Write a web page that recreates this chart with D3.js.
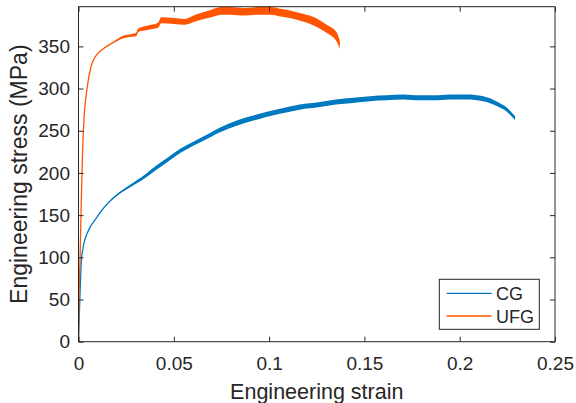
<!DOCTYPE html>
<html>
<head>
<meta charset="utf-8">
<script src="https://cdn.jsdelivr.net/npm/d3@7"></script>
<style>
  html, body { margin: 0; padding: 0; background: #fff; }
  svg { display: block; font-family: "Liberation Sans", Arial, Helvetica, sans-serif; }
</style>
</head>
<body>
<svg id="chart" width="576" height="403"></svg>
<script>
// ---- data ----
const seriesNames = ["CG", "UFG"];
const cgStrain = [0, 0.0004, 0.0010, 0.0015, 0.0022, 0.0035, 0.0057, 0.0092, 0.0127, 0.0162, 0.0214, 0.0267, 0.0337, 0.0407, 0.0476, 0.0512, 0.0564, 0.065, 0.0743, 0.083, 0.0917, 0.1057, 0.116, 0.1267, 0.135, 0.144, 0.153, 0.1617, 0.1704, 0.179, 0.186, 0.195, 0.2037, 0.2124, 0.2194, 0.2247, 0.229];
const cgStress = [0, 30, 70, 96, 109, 122, 134, 146, 157, 166, 176, 184, 194, 206, 217, 223, 230, 240, 251, 259, 265, 273, 278, 281, 284, 286, 288, 289, 290, 289, 289, 290, 290, 288, 282, 275, 265];
const cgNoise = [0, 0, 0, 0, 0, 0, 0, 0.3, 0.5, 0.8, 1, 1.5, 2, 2.5, 2.5, 2.5, 2.5, 2.5, 2.8, 3, 3, 3, 3, 3, 3, 3, 3, 3, 3, 3, 3, 3, 3, 3, 2.8, 2.5, 2.2];
const ufgStrain = [0, 0.0002, 0.0008, 0.0015, 0.0022, 0.003, 0.0046, 0.0067, 0.0092, 0.0129, 0.017, 0.0207, 0.0234, 0.028, 0.0303, 0.0312, 0.036, 0.0417, 0.0434, 0.05, 0.0557, 0.062, 0.0697, 0.075, 0.08, 0.087, 0.094, 0.1005, 0.106, 0.111, 0.116, 0.123, 0.13, 0.1355, 0.137];
const ufgStress = [0, 40, 97, 170, 230, 268, 302, 327, 339, 347, 353, 358, 361, 363, 364, 369, 372, 375, 381, 380, 379, 384, 389, 392, 392, 391, 392, 392, 390, 388, 385, 380, 371, 361, 352];
const ufgNoise = [0, 0, 0, 0, 0, 0, 0, 0, 0, 0, 0.5, 1, 1.5, 1.5, 2, 2, 2.5, 3, 3.5, 3.5, 3.5, 4, 4.5, 4.5, 4.5, 4.5, 4.5, 4.5, 4.5, 4.5, 4.5, 5, 5, 5.5, 5.5];
const xTicks = [0, 0.05, 0.1, 0.15, 0.2, 0.25];
const xTickLabels = ["0", "0.05", "0.1", "0.15", "0.2", "0.25"];
const yTicks = [0, 50, 100, 150, 200, 250, 300, 350];
const yTickLabels = ["0", "50", "100", "150", "200", "250", "300", "350"];
const xLabel = "Engineering strain";
const yLabel = "Engineering stress (MPa)";

// ---- layout ----
const colors = { CG: "#0079C1", UFG: "#FF5500" };
const pL = 78.5, pR = 555, pT = 6.7, pB = 341.7;
const svg = d3.select("#chart");
const x = d3.scaleLinear().domain([0, 0.25]).range([pL, pR]);
const y = d3.scaleLinear().domain([0, 397]).range([pB, pT]);
const axisColor = "#262626";

svg.append("defs").append("clipPath").attr("id", "plotclip")
  .append("rect").attr("x", pL).attr("y", pT).attr("width", pR - pL).attr("height", pB - pT);

const series = [
  { name: "CG", strain: cgStrain, stress: cgStress, noise: cgNoise },
  { name: "UFG", strain: ufgStrain, stress: ufgStress, noise: ufgNoise }
];

const plot = svg.append("g").attr("clip-path", "url(#plotclip)");
series.forEach(s => {
  const pts = s.strain.map((e, i) => ({ e, s: s.stress[i], n: s.noise[i] }));
  const area = d3.area().x(d => x(d.e)).y0(d => y(d.s - d.n)).y1(d => y(d.s + d.n)).curve(d3.curveMonotoneX);
  const line = d3.line().x(d => x(d.e)).y(d => y(d.s)).curve(d3.curveMonotoneX);
  plot.append("path").datum(pts).attr("d", area).attr("fill", colors[s.name]).attr("stroke", "none");
  plot.append("path").datum(pts).attr("d", line).attr("fill", "none")
    .attr("stroke", colors[s.name]).attr("stroke-width", 1.3);
});

const tickLen = 5;
const gx = svg.append("g").attr("transform", `translate(0,${pB})`)
  .call(d3.axisBottom(x).tickValues(xTicks).tickFormat((d, i) => xTickLabels[i]).tickSizeInner(-tickLen).tickSizeOuter(0));
const gxt = svg.append("g").attr("transform", `translate(0,${pT})`)
  .call(d3.axisTop(x).tickValues(xTicks).tickFormat("").tickSizeInner(-tickLen).tickSizeOuter(0));
const gy = svg.append("g").attr("transform", `translate(${pL},0)`)
  .call(d3.axisLeft(y).tickValues(yTicks).tickFormat((d, i) => yTickLabels[i]).tickSizeInner(-tickLen).tickSizeOuter(0).tickPadding(9));
const gyr = svg.append("g").attr("transform", `translate(${pR},0)`)
  .call(d3.axisRight(y).tickValues(yTicks).tickFormat("").tickSizeInner(-tickLen).tickSizeOuter(0));
[gx, gxt, gy, gyr].forEach(g => {
  g.select(".domain").remove();
  g.selectAll(".tick line").attr("stroke", axisColor).attr("stroke-width", 1);
  g.selectAll(".tick text").attr("fill", axisColor).style("font-size", "19px");
});
gx.selectAll(".tick text").attr("dy", null).attr("y", 28);
gy.selectAll(".tick text").attr("x", -8.5);
svg.append("rect").attr("x", pL).attr("y", pT).attr("width", pR - pL).attr("height", pB - pT)
  .attr("fill", "none").attr("stroke", axisColor).attr("stroke-width", 1);

svg.append("text").attr("x", (pL + pR) / 2).attr("y", 399).attr("text-anchor", "middle")
  .attr("fill", axisColor).style("font-size", "21.5px").text(xLabel);
svg.append("text").attr("transform", `translate(26.5,${(pT + pB) / 2}) rotate(-90)`).attr("text-anchor", "middle")
  .attr("fill", axisColor).style("font-size", "23px").text(yLabel);

const lg = svg.append("g");
lg.append("rect").attr("x", 439.3).attr("y", 279.3).attr("width", 100).attr("height", 50)
  .attr("fill", "#fff").attr("stroke", axisColor).attr("stroke-width", 1);
seriesNames.forEach((n, i) => {
  const yy = 293.3 + i * 22.7;
  lg.append("line").attr("x1", 446.7).attr("x2", 491.7).attr("y1", yy).attr("y2", yy)
    .attr("stroke", colors[n]).attr("stroke-width", 1.3);
  lg.append("text").attr("x", 496).attr("y", yy + 6.5).attr("fill", axisColor)
    .style("font-size", "18px").text(n);
});
</script>
</body>
</html>
